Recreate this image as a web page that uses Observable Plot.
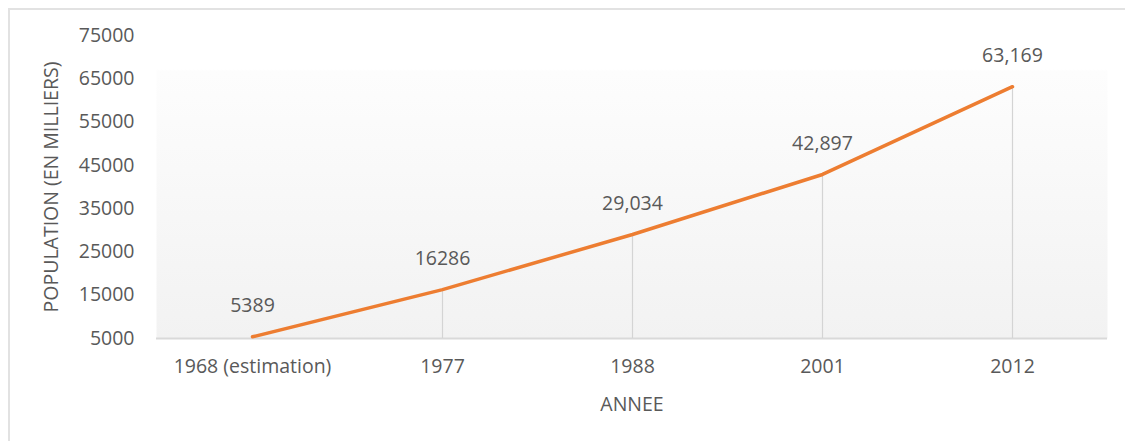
<!DOCTYPE html>
<html>
<head>
<meta charset="utf-8">
<script src="https://cdn.jsdelivr.net/npm/d3@7"></script>
<script src="https://cdn.jsdelivr.net/npm/@observablehq/plot@0.6"></script>
<style>
  html, body { margin: 0; padding: 0; background: #fff; overflow: hidden; }
  #wrap { position: relative; width: 1125px; height: 441px; }
  #border { position: absolute; left: 8px; top: 8px; width: 1300px; height: 600px;
            border: 2px solid #e2e2e2; box-sizing: border-box; pointer-events: none; }
</style>
</head>
<body>
<div id="wrap"><div id="border"></div></div>
<script>
const years = ["1968 (estimation)", "1977", "1988", "2001", "2012"];
const population = [5389, 16286, 29034, 42897, 63169];
const valueLabels = ["5389", "16286", "29,034", "42,897", "63,169"];
const yTicks = [5000, 15000, 25000, 35000, 45000, 55000, 65000, 75000];

const data = years.map((y, i) => ({year: y, pop: population[i], label: valueLabels[i]}));
const baseValue = yTicks[0];

const defs = () => {
  const ns = "http://www.w3.org/2000/svg";
  const d = document.createElementNS(ns, "defs");
  d.innerHTML = `<linearGradient id="bg" x1="0" y1="0" x2="0" y2="1">
      <stop offset="0" stop-color="#ffffff"/>
      <stop offset="0.11" stop-color="#ffffff"/>
      <stop offset="0.12" stop-color="#fdfdfd"/>
      <stop offset="1" stop-color="#f2f2f2"/>
    </linearGradient>`;
  return d;
};

const chart = Plot.plot({
  width: 1125,
  height: 441,
  marginLeft: 156,
  marginRight: 18,
  marginTop: 35,
  marginBottom: 103,
  style: {fontFamily: "'Open Sans', sans-serif", fontSize: "19.5px", color: "#595959", background: "transparent"},
  x: {type: "point", domain: years, padding: 0.5, label: "ANNEE", labelAnchor: "center", labelArrow: "none"},
  y: {domain: [5000, 75000], label: "POPULATION (EN MILLIERS)", labelAnchor: "center", labelArrow: "none"},
  marks: [
    defs,
    Plot.frame({fill: "url(#bg)", stroke: null}),
    Plot.ruleY([baseValue], {stroke: "#d9d9d9", strokeWidth: 2}),
    Plot.ruleX(data, {x: "year", y1: baseValue, y2: "pop", stroke: "#d4d4d4", strokeWidth: 1.2}),
    Plot.line(data, {x: "year", y: "pop", stroke: "#ED7D31", strokeWidth: 3.5}),
    Plot.text(data, {x: "year", y: "pop", text: "label", dy: -31, fill: "#595959", fontSize: 19.5}),
    Plot.axisX({tickSize: 0, tickPadding: 21, label: "ANNEE", labelOffset: 72, labelAnchor: "center", labelArrow: "none", fontSize: 19.5}),
    Plot.axisY({ticks: yTicks, tickSize: 0, tickPadding: 22, tickFormat: d => String(d), label: "POPULATION (EN MILLIERS)", labelOffset: 112, labelAnchor: "center", labelArrow: "none", fontSize: 19.5})
  ]
});
document.getElementById("wrap").insertBefore(chart, document.getElementById("border"));
</script>
</body>
</html>
